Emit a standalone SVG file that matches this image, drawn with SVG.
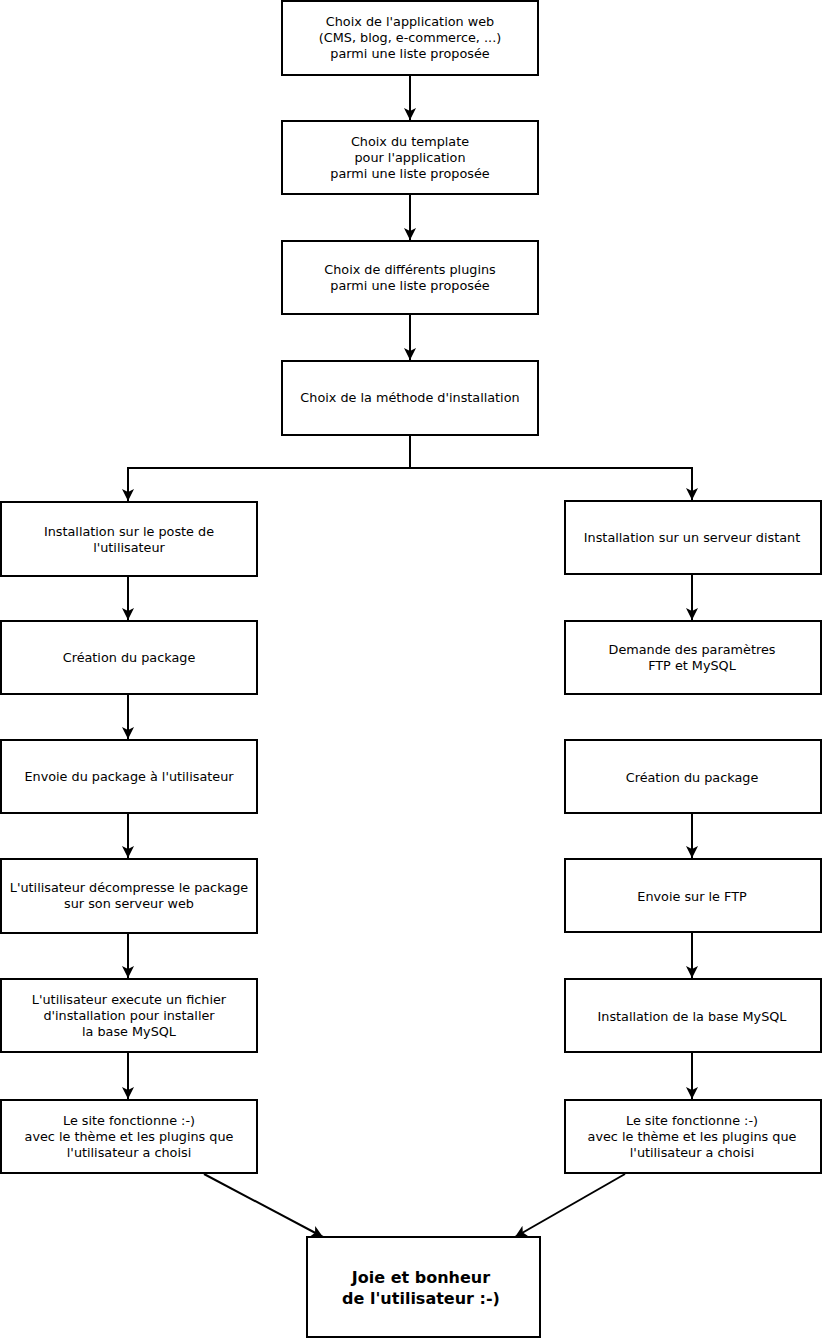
<svg xmlns="http://www.w3.org/2000/svg" width="822" height="1339" viewBox="0 0 822 1339">
<style>
rect.box{fill:#fff;stroke:#000;stroke-width:2}
text{font-family:"DejaVu Sans","Liberation Sans",sans-serif;font-size:12.8px;text-anchor:middle;fill:#000}
text.big{font-size:16px;font-weight:bold}
.conn path,.conn line{fill:none;stroke:#000;stroke-width:2}
</style>
<defs>
<marker id="arr" markerWidth="12" markerHeight="12" viewBox="0 0 12 12" refX="12" refY="6" orient="auto" markerUnits="userSpaceOnUse">
<path d="M0,0 L12,6 L0,12 L3,6 Z" fill="#000"/>
</marker>
</defs>
<rect width="822" height="1339" fill="#fff"/>
<g class="conn">
<line x1="410" y1="75" x2="410" y2="120" marker-end="url(#arr)"/>
<line x1="410" y1="194" x2="410" y2="240" marker-end="url(#arr)"/>
<line x1="410" y1="314" x2="410" y2="360" marker-end="url(#arr)"/>
<path d="M410,435 V468 H128 V501" marker-end="url(#arr)"/>
<path d="M410,468 H692 V500" marker-end="url(#arr)"/>
<line x1="128" y1="576" x2="128" y2="620" marker-end="url(#arr)"/>
<line x1="128" y1="694" x2="128" y2="739" marker-end="url(#arr)"/>
<line x1="128" y1="813" x2="128" y2="858" marker-end="url(#arr)"/>
<line x1="128" y1="933" x2="128" y2="978" marker-end="url(#arr)"/>
<line x1="128" y1="1052" x2="128" y2="1099" marker-end="url(#arr)"/>
<line x1="692" y1="574" x2="692" y2="620" marker-end="url(#arr)"/>
<line x1="692" y1="813" x2="692" y2="858" marker-end="url(#arr)"/>
<line x1="692" y1="932" x2="692" y2="978" marker-end="url(#arr)"/>
<line x1="692" y1="1052" x2="692" y2="1099" marker-end="url(#arr)"/>
<line x1="204" y1="1174" x2="323" y2="1237" marker-end="url(#arr)"/>
<line x1="625" y1="1174" x2="515" y2="1237" marker-end="url(#arr)"/>
</g>
<g id="n1"><rect class="box" x="282" y="1" width="256" height="74"/>
<text x="410" y="26">Choix de l'application web</text><text x="410" y="42">(CMS, blog, e-commerce, ...)</text><text x="410" y="58">parmi une liste proposée</text></g>
<g id="n2"><rect class="box" x="282" y="121" width="256" height="73"/>
<text x="410" y="146">Choix du template</text><text x="410" y="162">pour l'application</text><text x="410" y="178">parmi une liste proposée</text></g>
<g id="n3"><rect class="box" x="282" y="241" width="256" height="73"/>
<text x="410" y="274">Choix de différents plugins</text><text x="410" y="290">parmi une liste proposée</text></g>
<g id="n4"><rect class="box" x="282" y="361" width="256" height="74"/>
<text x="410" y="402">Choix de la méthode d'installation</text></g>
<g id="l1"><rect class="box" x="1" y="502" width="256" height="74"/>
<text x="129" y="536">Installation sur le poste de</text><text x="129" y="552">l'utilisateur</text></g>
<g id="l2"><rect class="box" x="1" y="621" width="256" height="73"/>
<text x="129" y="662">Création du package</text></g>
<g id="l3"><rect class="box" x="1" y="740" width="256" height="73"/>
<text x="129" y="781">Envoie du package à l'utilisateur</text></g>
<g id="l4"><rect class="box" x="1" y="859" width="256" height="74"/>
<text x="129" y="892">L'utilisateur décompresse le package</text><text x="129" y="908">sur son serveur web</text></g>
<g id="l5"><rect class="box" x="1" y="979" width="256" height="73"/>
<text x="129" y="1004">L'utilisateur execute un fichier</text><text x="129" y="1020">d'installation pour installer</text><text x="129" y="1036">la base MySQL</text></g>
<g id="l6"><rect class="box" x="1" y="1100" width="256" height="73"/>
<text x="129" y="1125">Le site fonctionne :-)</text><text x="129" y="1141">avec le thème et les plugins que</text><text x="129" y="1157">l'utilisateur a choisi</text></g>
<g id="r1"><rect class="box" x="565" y="501" width="256" height="73"/>
<text x="692" y="542">Installation sur un serveur distant</text></g>
<g id="r2"><rect class="box" x="565" y="621" width="256" height="73"/>
<text x="692" y="654">Demande des paramètres</text><text x="692" y="670">FTP et MySQL</text></g>
<g id="r3"><rect class="box" x="565" y="740" width="256" height="73"/>
<text x="692" y="782">Création du package</text></g>
<g id="r4"><rect class="box" x="565" y="859" width="256" height="73"/>
<text x="692" y="901">Envoie sur le FTP</text></g>
<g id="r5"><rect class="box" x="565" y="979" width="256" height="73"/>
<text x="692" y="1021">Installation de la base MySQL</text></g>
<g id="r6"><rect class="box" x="565" y="1100" width="256" height="73"/>
<text x="692" y="1125">Le site fonctionne :-)</text><text x="692" y="1141">avec le thème et les plugins que</text><text x="692" y="1157">l'utilisateur a choisi</text></g>
<g id="final"><rect class="box" x="307" y="1237" width="233" height="100"/>
<text class="big" x="421" y="1283">Joie et bonheur</text><text class="big" x="421" y="1304">de l'utilisateur :-)</text></g>
</svg>
